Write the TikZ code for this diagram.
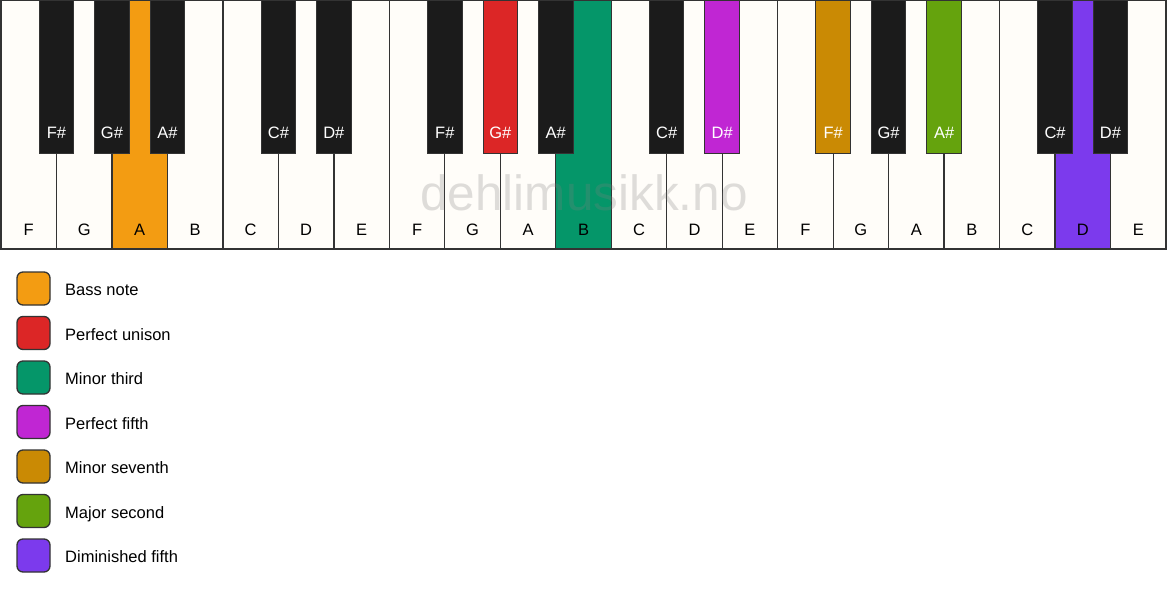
\documentclass[tikz,border=0pt]{standalone}
\usepackage{fontspec}
\setmainfont{Liberation Sans}
\definecolor{keywhite}{HTML}{FFFDF9}
\definecolor{keyblack}{HTML}{1B1B1B}
\definecolor{keyline}{HTML}{333333}
\definecolor{bass}{HTML}{F39C12}
\definecolor{unison}{HTML}{DC2626}
\definecolor{minthird}{HTML}{059669}
\definecolor{pfifth}{HTML}{C026D3}
\definecolor{minseventh}{HTML}{CA8A04}
\definecolor{majsecond}{HTML}{65A30D}
\definecolor{dimfifth}{HTML}{7C3AED}
\begin{document}
\begin{tikzpicture}[x=1pt,y=-1pt,
    whitekey/.style={draw=keyline,line width=1.3pt},
    blackkey/.style={draw=keyline,line width=1pt},
    notename/.style={font=\fontsize{16.5}{19}\selectfont},
    swatch/.style={draw=keyline,line width=1.3pt,rounded corners=6pt}]
    \useasboundingbox[fill=white] (0,0) rectangle (1167,594);
    \def\kw{55.476}
    \foreach \n/\c [count=\i from 0] in {F/keywhite,G/keywhite,A/bass,B/keywhite,C/keywhite,D/keywhite,E/keywhite,
            F/keywhite,G/keywhite,A/keywhite,B/minthird,C/keywhite,D/keywhite,E/keywhite,
            F/keywhite,G/keywhite,A/keywhite,B/keywhite,C/keywhite,D/dimfifth,E/keywhite} {
        \draw[whitekey,fill=\c] ({1+\i*\kw},0.5) rectangle ++(\kw,248.5);
        \node[notename] (w\i) at ({1+(\i+0.5)*\kw},230) {\n};
    }
    \foreach \p/\n/\c in {1/F/keyblack,2/G/keyblack,3/A/keyblack,5/C/keyblack,6/D/keyblack,
            8/F/keyblack,9/G/unison,10/A/keyblack,12/C/keyblack,13/D/pfifth,
            15/F/minseventh,16/G/keyblack,17/A/majsecond,19/C/keyblack,20/D/keyblack} {
        \draw[blackkey,fill=\c] ({1+\p*\kw-17.25},0.5) rectangle ++(34.5,152.5);
        \node[notename,text=white] (b\p) at ({1+\p*\kw},133) {\n\#};
    }
    \node[text=gray,text opacity=0.26,font=\fontsize{49.5}{54}\selectfont] (mark) at (584,192.5) {dehlimusikk.no};
    \foreach \c/\t [count=\i from 0] in {bass/Bass note,unison/Perfect unison,minthird/Minor third,
            pfifth/Perfect fifth,minseventh/Minor seventh,majsecond/Major second,dimfifth/Diminished fifth} {
        \draw[swatch,fill=\c] (17,{272+\i*44.5}) rectangle ++(33,33);
        \node[notename,anchor=base west,inner sep=0pt] (l\i) at (65,{295.5+\i*44.5}) {\t};
    }
\end{tikzpicture}
\end{document}
